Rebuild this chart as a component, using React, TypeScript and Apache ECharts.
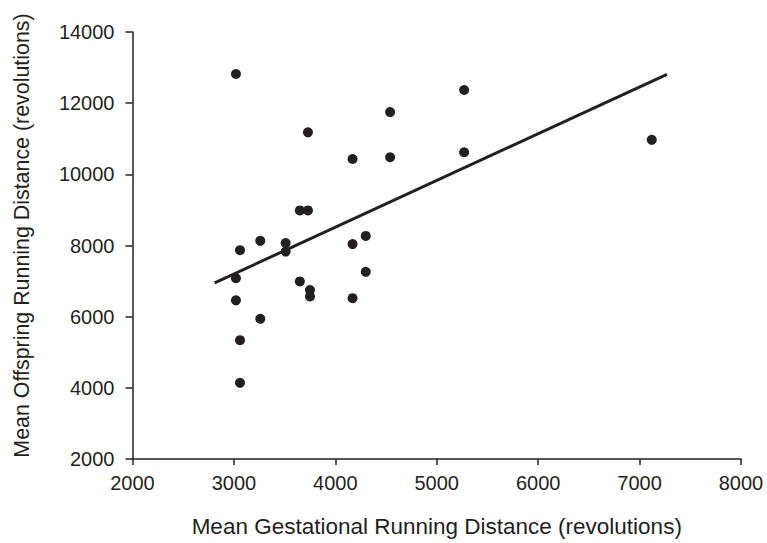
import React, { useEffect, useRef } from "react";
import * as echarts from "echarts";

const gestational = [3020, 3730, 4170, 3650, 3730, 3060, 3260, 3510, 3510, 3020, 3020, 3260, 3060, 3060, 3650, 3750, 3750, 4170, 4170, 4300, 4300, 5270, 4540, 4540, 5270, 7120];
const offspring = [12820, 11180, 10430, 8985, 8985, 7870, 8130, 8070, 7830, 7080, 6460, 5940, 5340, 4140, 6990, 6750, 6570, 6520, 8040, 8270, 7260, 12370, 11750, 10480, 10620, 10970];
const fitX = [2810, 7270];
const fitY = [6950, 12810];

const INK = "#231f20";
const FONT = "'Liberation Sans', Arial, Helvetica, sans-serif";

export default function App() {
  const ref = useRef<HTMLDivElement>(null);
  useEffect(() => {
    if (!ref.current) return;
    const chart = echarts.init(ref.current, null, { renderer: "svg" });
    chart.setOption({
      animation: false,
      backgroundColor: "#ffffff",
      grid: { left: 132.5, right: 26, top: 32, bottom: 83, containLabel: false },
      xAxis: {
        type: "value",
        min: 2000,
        max: 8000,
        interval: 1000,
        name: "Mean Gestational Running Distance (revolutions)",
        nameLocation: "middle",
        nameGap: 56,
        nameTextStyle: { fontFamily: FONT, fontSize: 22.5, color: INK },
        axisLine: { show: true, lineStyle: { color: INK, width: 1.5 } },
        axisTick: { show: true, length: 6, lineStyle: { color: INK, width: 1.5 } },
        axisLabel: { fontFamily: FONT, fontSize: 20, color: INK, margin: 14, formatter: (v: number) => String(v) },
        splitLine: { show: false },
      },
      yAxis: {
        type: "value",
        min: 2000,
        max: 14000,
        interval: 2000,
        name: "Mean Offspring Running Distance (revolutions)",
        nameLocation: "middle",
        nameGap: 100,
        nameTextStyle: { fontFamily: FONT, fontSize: 21.4, color: INK, padding: [0, 0, 0, 20] },
        axisLine: { show: true, lineStyle: { color: INK, width: 1.5 } },
        axisTick: { show: true, length: 7, lineStyle: { color: INK, width: 1.5 } },
        axisLabel: { fontFamily: FONT, fontSize: 20, color: INK, margin: 18, formatter: (v: number) => String(v) },
        splitLine: { show: false },
      },
      series: [
        {
          type: "scatter",
          data: gestational.map((g, i) => [g, offspring[i]]),
          symbol: "circle",
          symbolSize: 10,
          itemStyle: { color: INK, opacity: 1 },
          z: 3,
        },
        {
          type: "line",
          data: fitX.map((x, i) => [x, fitY[i]]),
          showSymbol: false,
          symbol: "none",
          lineStyle: { color: INK, width: 3 },
          z: 2,
        },
      ],
    });
    return () => chart.dispose();
  }, []);
  return <div ref={ref} style={{ width: 767, height: 543, position: "absolute", left: 0, top: 0 }} />;
}
